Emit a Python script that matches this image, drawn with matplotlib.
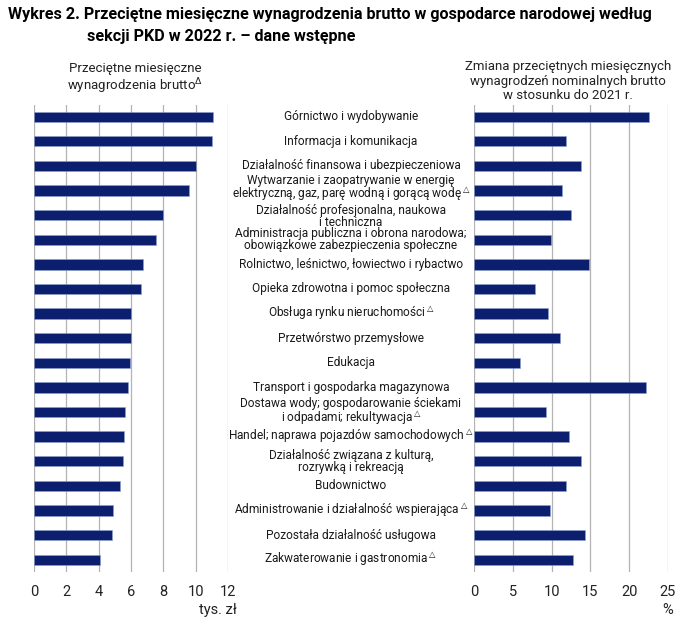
import matplotlib
matplotlib.use("Agg")
import matplotlib.pyplot as plt
from matplotlib.transforms import blended_transform_factory

plt.rcParams['font.family'] = ['Roboto', 'DejaVu Sans']

TRI = r"$^{\triangle}$"

sections = [
    "Górnictwo i wydobywanie",
    "Informacja i komunikacja",
    "Działalność finansowa i ubezpieczeniowa",
    "Wytwarzanie i zaopatrywanie w energię\nelektryczną, gaz, parę wodną i gorącą wodę" + TRI,
    "Działalność profesjonalna, naukowa\ni techniczna",
    "Administracja publiczna i obrona narodowa;\nobowiązkowe zabezpieczenia społeczne",
    "Rolnictwo, leśnictwo, łowiectwo i rybactwo",
    "Opieka zdrowotna i pomoc społeczna",
    "Obsługa rynku nieruchomości" + TRI,
    "Przetwórstwo przemysłowe",
    "Edukacja",
    "Transport i gospodarka magazynowa",
    "Dostawa wody; gospodarowanie ściekami\ni odpadami; rekultywacja" + TRI,
    "Handel; naprawa pojazdów samochodowych" + TRI,
    "Działalność związana z kulturą,\nrozrywką i rekreacją",
    "Budownictwo",
    "Administrowanie i działalność wspierająca" + TRI,
    "Pozostała działalność usługowa",
    "Zakwaterowanie i gastronomia" + TRI,
]

# average gross monthly wages, thousand PLN
wages = [11.1, 11.0, 10.0, 9.6, 8.0, 7.57, 6.76, 6.6, 6.0, 6.0,
         5.96, 5.79, 5.65, 5.59, 5.5, 5.3, 4.89, 4.85, 4.1]

# change vs 2021, %
change = [22.6, 11.8, 13.8, 11.4, 12.5, 9.9, 14.8, 7.8, 9.5, 11.1,
          5.9, 22.2, 9.3, 12.2, 13.8, 11.8, 9.8, 14.3, 12.8]

bar_color = '#0b1f6e'
grid_color = '#b3b3b3'

fig = plt.figure(figsize=(6.96, 6.27), dpi=100)
ax1 = fig.add_axes([34 / 696, 55 / 627, 194 / 696, 467 / 627])
ax2 = fig.add_axes([474 / 696, 55 / 627, 194 / 696, 467 / 627])

y = list(range(len(sections)))

ax1.barh(y, wages, height=0.42, color=bar_color, edgecolor='#8fa0d0', linewidth=0.4, zorder=3)
ax1.set_xlim(0, 12)
ax1.set_xticks(range(0, 13, 2))

ax2.barh(y, change, height=0.42, color=bar_color, edgecolor='#8fa0d0', linewidth=0.4, zorder=3)
ax2.set_xlim(0, 25)
ax2.set_xticks(range(0, 26, 5))

for ax in (ax1, ax2):
    ax.set_ylim(len(sections) - 0.5, -0.476)
    ax.set_yticks([])
    for s in ax.spines.values():
        s.set_visible(False)
    ax.grid(axis='x', color=grid_color, linewidth=0.9, zorder=0)
    ax.tick_params(axis='x', length=0, labelsize=10.5, pad=9, colors='#222222')

# small vertical nudges so the two crowded two-line labels don't collide
nudge = {3: -0.07, 4: 0.07}

tr = blended_transform_factory(fig.transFigure, ax1.transData)
for i, name in enumerate(sections):
    fig.text(351 / 696, i + nudge.get(i, 0), name, transform=tr, ha='center', va='center',
             fontsize=8.6, linespacing=0.9, color='#1a1a1a')

fig.text(8 / 696, 1 - 15 / 627,
         "Wykres 2. Przeciętne miesięczne wynagrodzenia brutto w gospodarce narodowej według",
         fontsize=11.6, fontweight='bold', ha='left', va='center')
fig.text(87 / 696, 1 - 37 / 627, "sekcji PKD w 2022 r. – dane wstępne",
         fontsize=11.6, fontweight='bold', ha='left', va='center')

fig.text(135 / 696, 1 - 79 / 627, "Przeciętne miesięczne\nwynagrodzenia brutto" + r"$^{\Delta}$",
         fontsize=9.5, ha='center', va='center', linespacing=1.15, color='#222222')
fig.text(568 / 696, 1 - 81 / 627,
         "Zmiana przeciętnych miesięcznych\nwynagrodzeń nominalnych brutto\nw stosunku do 2021 r.",
         fontsize=9.5, ha='center', va='center', linespacing=1.12, color='#222222')

fig.text(218 / 696, 1 - 610 / 627, "tys. zł", fontsize=10.5, ha='center', va='center', color='#222222')
fig.text(668 / 696, 1 - 610 / 627, "%", fontsize=10.5, ha='center', va='center', color='#222222')

fig.savefig("out.png", dpi=100)
